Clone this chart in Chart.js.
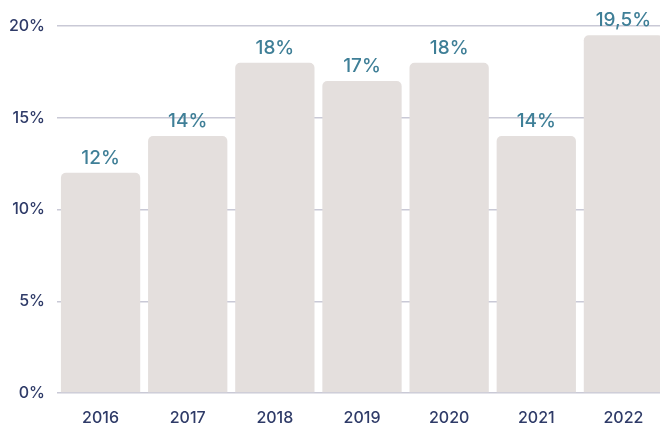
<!DOCTYPE html>
<html>
<head>
<meta charset="utf-8">
<script src="https://cdn.jsdelivr.net/npm/chart.js@4/dist/chart.umd.min.js"></script>
<style>
  html, body { margin: 0; padding: 0; background: #fff; overflow: hidden; }
  #wrap { width: 667px; height: 423px; }
</style>
</head>
<body>
<div id="wrap"><canvas id="chart"></canvas></div>
<script>
var years = ['2016', '2017', '2018', '2019', '2020', '2021', '2022'];
var shares = [12, 14, 18, 17, 18, 14, 19.5];
var yTicks = [0, 5, 10, 15, 20];

var FONT = 'Inter, "Open Sans", sans-serif';

// draws "12%" etc above each bar
var valueLabels = {
    id: 'valueLabels',
    afterDatasetsDraw: function (chart) {
        var ctx = chart.ctx;
        var meta = chart.getDatasetMeta(0);
        ctx.save();
        ctx.font = '500 19px ' + FONT;
        ctx.fillStyle = '#3f7f97';
        ctx.textAlign = 'center';
        ctx.textBaseline = 'alphabetic';
        meta.data.forEach(function (bar, i) {
            var txt = String(shares[i]).replace('.', ',') + '%';
            ctx.fillText(txt, bar.x, bar.y - 9);
        });
        ctx.restore();
    }
};

var ctx = document.getElementById('chart').getContext('2d');
var myChart = new Chart(ctx, {
    type: 'bar',
    data: {
        labels: years,
        datasets: [{
            data: shares,
            backgroundColor: '#e4dfdd',
            borderRadius: { topLeft: 5, topRight: 5 },
            borderSkipped: 'bottom',
            barPercentage: 0.91,
            categoryPercentage: 1
        }]
    },
    options: {
        responsive: true,
        maintainAspectRatio: false,
        animation: false,
        layout: { padding: { top: 26, right: 0, left: 0, bottom: 0 } },
        plugins: { legend: { display: false }, tooltip: { enabled: false } },
        scales: {
            x: {
                grid: { display: false },
                border: { display: false },
                ticks: {
                    color: '#2f3b68',
                    font: { family: FONT, size: 16, weight: '500' },
                    padding: 8
                },
                afterFit: function (scale) { scale.height = 30; }
            },
            y: {
                min: 0,
                max: 20,
                afterBuildTicks: function (scale) {
                    scale.ticks = yTicks.map(function (v) { return { value: v }; });
                },
                grid: { color: '#c9c9d6', lineWidth: 1.5, drawTicks: false },
                border: { display: false },
                ticks: {
                    color: '#2f3b68',
                    font: { family: FONT, size: 16, weight: '500' },
                    padding: 12,
                    callback: function (v) { return v + '%'; }
                },
                afterFit: function (scale) { scale.width = 57; }
            }
        }
    },
    plugins: [valueLabels]
});
</script>
</body>
</html>
